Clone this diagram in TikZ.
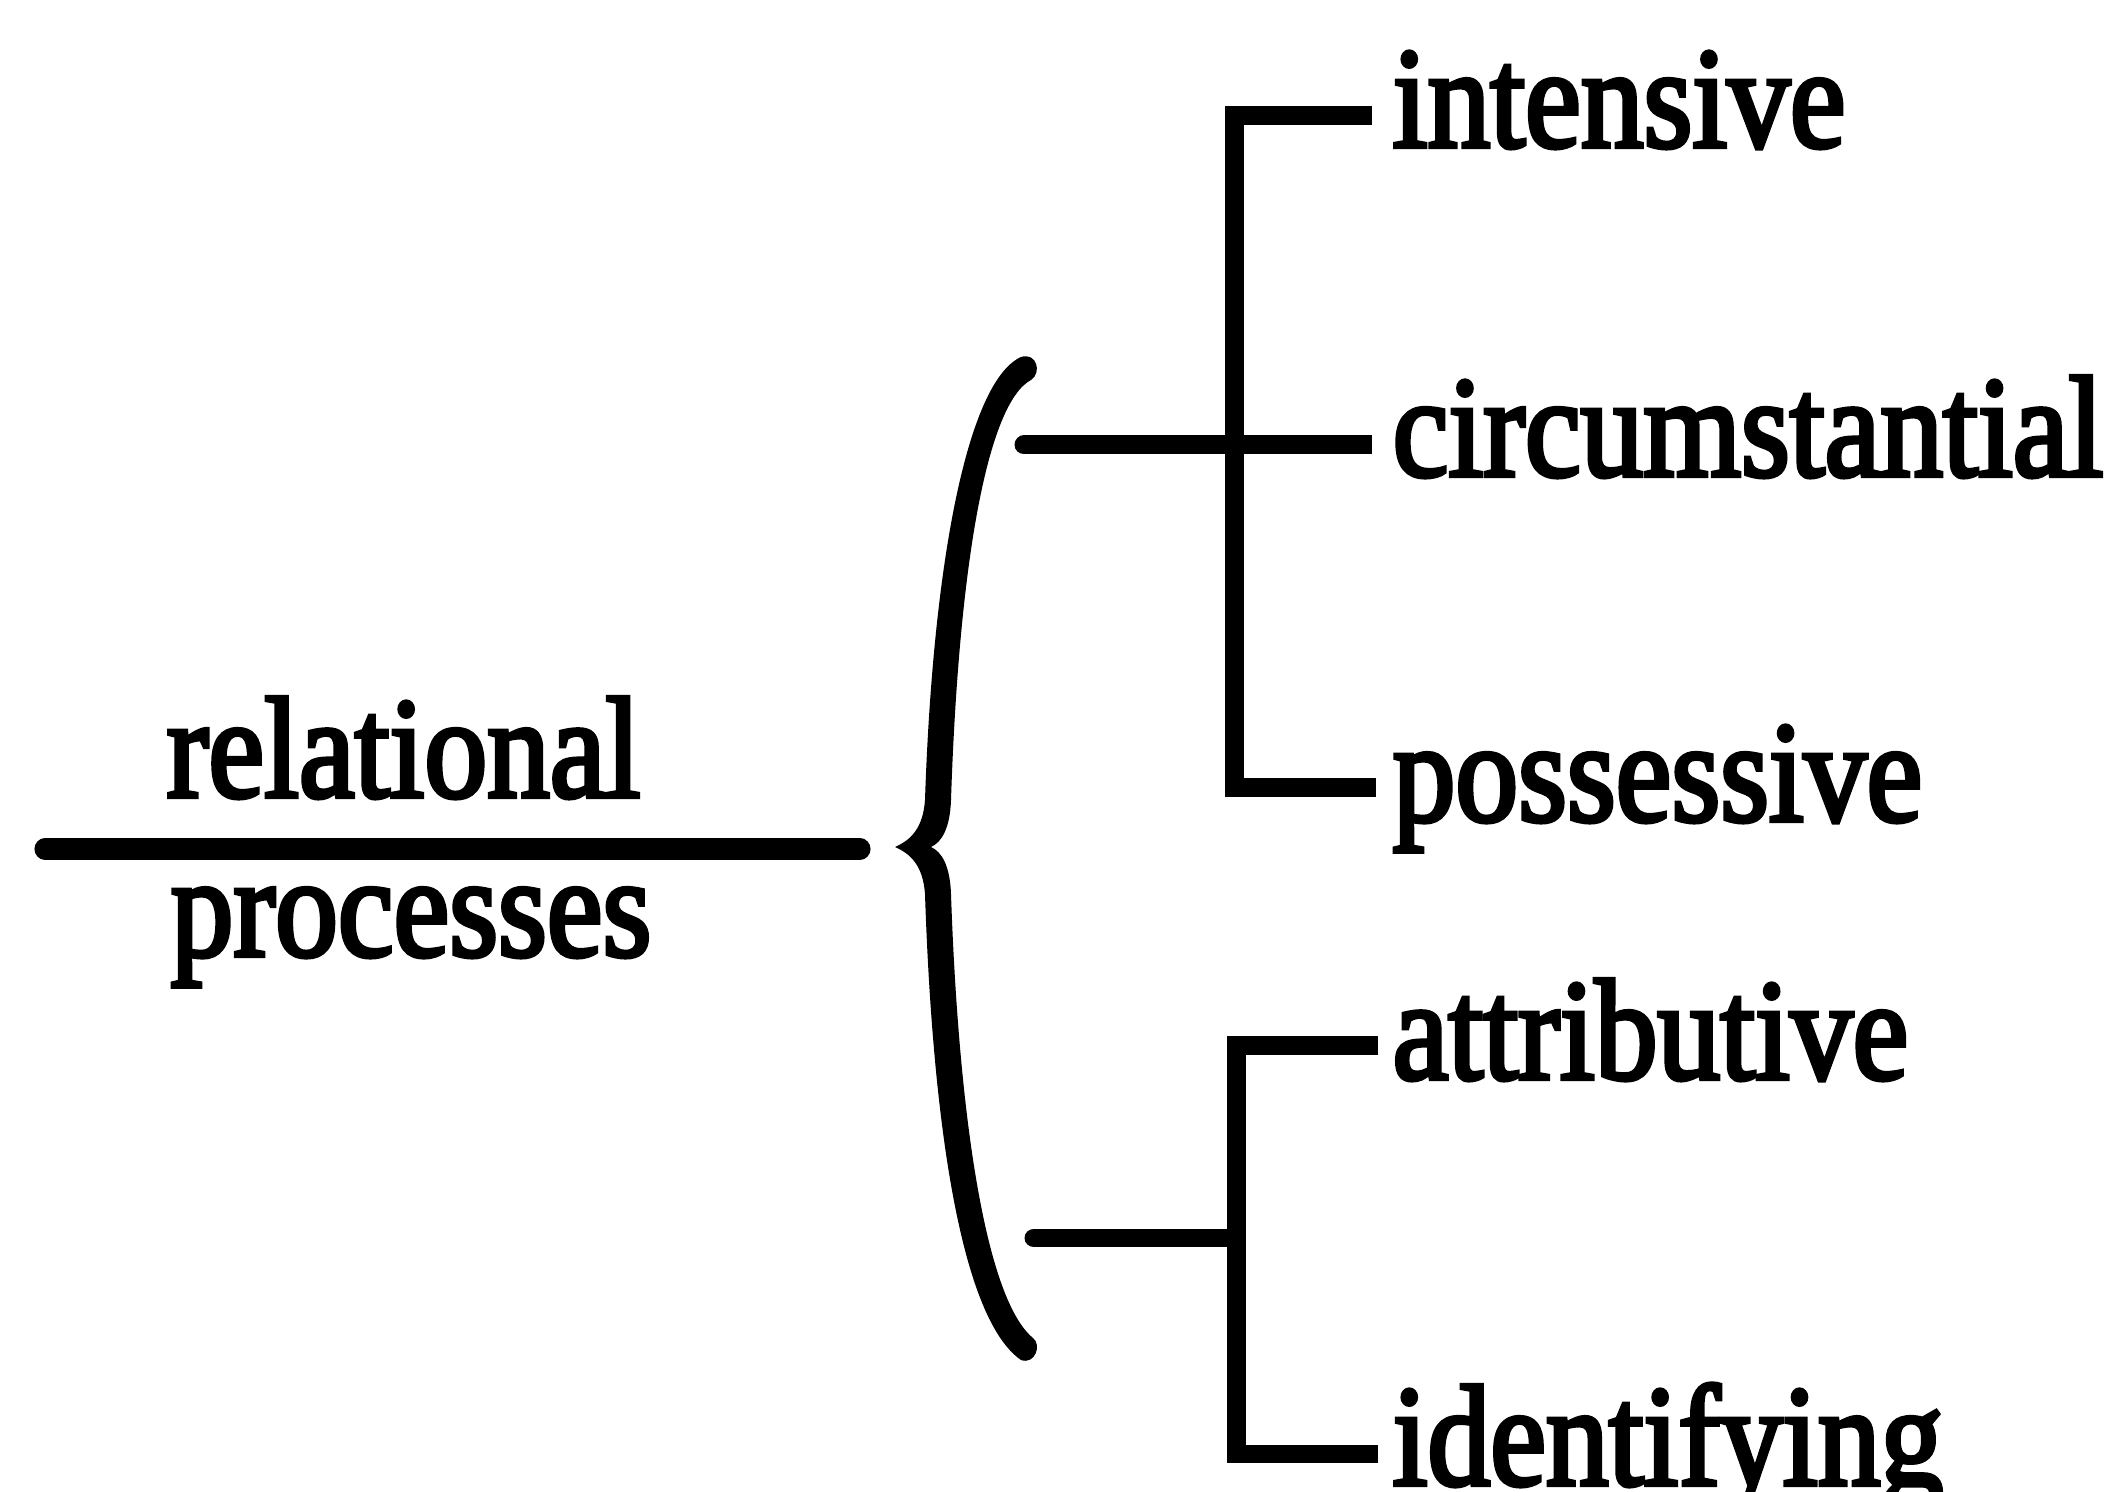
\documentclass[tikz,border=0pt]{standalone}
\usepackage{fontspec}
\setmainfont{Liberation Serif}[FakeStretch=0.87,FakeBold=3]
\begin{document}
\begin{tikzpicture}[x=0.01cm,y=-0.01cm,
  rule/.style={line width=5.4pt,line cap=butt,line join=miter},
  mainrule/.style={line width=6pt,line cap=round},
  label/.style={inner sep=0pt,anchor=base west,font=\fontsize{41}{49}\selectfont},
  braceshape/.style={fill=black,draw=none}]
\useasboundingbox (0,0) rectangle (2126,1492);

% entry condition
\coordinate (mL) at (45,849);
\coordinate (mR) at (860,849);
\draw[mainrule] (mL) -- (mR);
\node[label] (rel) at (166,797) {relational};
\node[label] (proc) at (170,956) {processes};

% curly brace (simultaneous systems)
\path[braceshape] (1021,357)
  .. controls (968,381) and (933,560) .. (925,800)
  .. controls (923,828) and (911,840) .. (895,847)
  .. controls (911,854) and (923,866) .. (925,894)
  .. controls (933,1135) and (963,1320) .. (1021,1360)
  .. controls (1035,1365) and (1042,1345) .. (1033,1338)
  .. controls (987,1300) and (959,1125) .. (951,894)
  .. controls (950,866) and (942,852) .. (931,847)
  .. controls (942,842) and (950,828) .. (951,800)
  .. controls (959,560) and (988,403) .. (1031,380)
  .. controls (1042,373) and (1037,352) .. (1021,357) -- cycle;

% first system: type of relation
\node[label] (int) at (1392,147) {intensive};
\node[label] (circ) at (1392,476) {circumstantial};
\node[label] (poss) at (1392,821) {possessive};
\coordinate (s1) at (1024,445);
\coordinate (eInt) at (1372,116);
\coordinate (eCirc) at (1372,445);
\coordinate (ePoss) at (1376,788);
\coordinate (bar1) at (1234,445);
\draw[rule] (eInt) -- (bar1 |- eInt) -- (bar1 |- ePoss) -- (ePoss);
\draw[rule,line cap=round] (s1) -- (bar1);
\draw[rule] (bar1) -- (eCirc);

% second system: mode of relation
\node[label] (attr) at (1392,1079) {attributive};
\node[label] (ident) at (1392,1485) {identifying};
\coordinate (s2) at (1034,1238);
\coordinate (bar2) at (1236,1238);
\coordinate (eAttr) at (1378,1046);
\coordinate (eIdent) at (1378,1454);
\draw[rule] (eAttr) -- (bar2 |- eAttr) -- (bar2 |- eIdent) -- (eIdent);
\draw[rule,line cap=round] (s2) -- (bar2);
\end{tikzpicture}
\end{document}
